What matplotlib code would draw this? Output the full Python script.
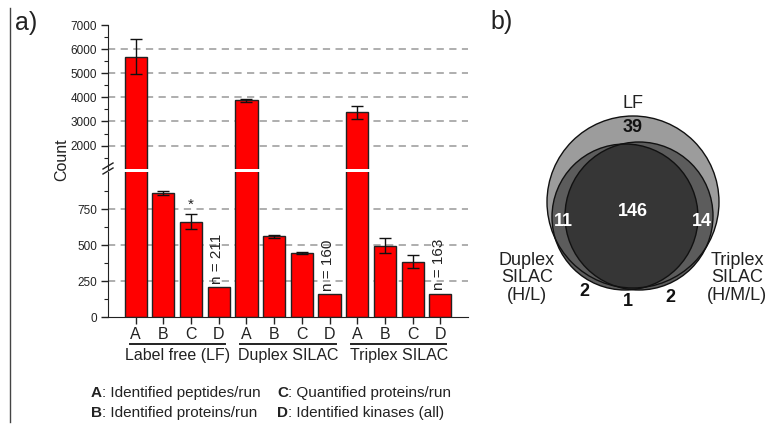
import numpy as np
import matplotlib.pyplot as plt
from matplotlib.patches import Circle
from matplotlib.transforms import blended_transform_factory

plt.rcParams['font.family'] = ['Liberation Sans', 'DejaVu Sans']
plt.rcParams['text.color'] = '#222222'
plt.rcParams['axes.edgecolor'] = '#222222'
plt.rcParams['xtick.color'] = '#222222'
plt.rcParams['ytick.color'] = '#222222'

# ---- data ----
groups = ['Label free (LF)', 'Duplex SILAC', 'Triplex SILAC']
letters = ['A', 'B', 'C', 'D']
lf_vals = [5680, 865, 662, 211]
lf_err = [720, 14, 52, 0]
duplex_vals = [3870, 560, 445, 160]
duplex_err = [55, 8, 8, 0]
triplex_vals = [3385, 497, 385, 163]
triplex_err = [270, 52, 45, 0]

upper_ticks = [2000, 3000, 4000, 5000, 6000, 7000]
upper_grid = [2000, 3000, 4000, 5000, 6000]
lower_ticks = [0, 250, 500, 750]
lower_grid = [250, 500, 750]

legend_rows = [[('A', 'Identified peptides/run'), ('C', 'Quantified proteins/run')],
               [('B', 'Identified proteins/run'), ('D', 'Identified kinases (all)')]]

venn_sets = ['LF', 'Duplex\nSILAC\n(H/L)', 'Triplex\nSILAC\n(H/M/L)']
venn_counts = {'lf_only': 39, 'all': 146, 'lf_duplex': 11, 'lf_triplex': 14,
               'duplex_only': 2, 'duplex_triplex': 1, 'triplex_only': 2}

W, H = 771, 429
fig = plt.figure(figsize=(W / 100, H / 100), dpi=100)


def fr(x0, y0, x1, y1):
    # pixel box -> figure fraction rect
    return [x0 / W, 1 - y1 / H, (x1 - x0) / W, (y1 - y0) / H]


values = np.array(lf_vals + duplex_vals + triplex_vals)
errors = np.array(lf_err + duplex_err + triplex_err)
x = np.arange(len(values))

ax_up = fig.add_axes(fr(108, 25, 468, 168.5))
ax_lo = fig.add_axes(fr(108, 171.5, 468, 317))

for ax in (ax_up, ax_lo):
    ax.bar(x, values, width=0.8, color='#ff0000', edgecolor='#222222',
           linewidth=1.0, zorder=2)
    has_err = errors > 0
    ax.errorbar(x[has_err], values[has_err], yerr=errors[has_err], fmt='none',
                ecolor='#111111', elinewidth=1.0, capsize=4, capthick=1.0, zorder=3)
    ax.set_xlim(-1, 12)
    ax.spines['top'].set_visible(False)
    ax.spines['right'].set_visible(False)
    ax.tick_params(axis='y', direction='out', length=5, width=1, labelsize=8.5, pad=3)
    ax.tick_params(axis='y', which='minor', direction='out', length=3, width=0.8)

grid_kw = dict(color='#a8a8a8', linewidth=1.3, linestyle=(0, (4, 3)), zorder=0)

ax_up.set_ylim(1050, 7000)
ax_up.set_yticks(upper_ticks)
ax_up.set_yticks(np.arange(1500, 7000, 1000), minor=True)
ax_up.spines['bottom'].set_visible(False)
ax_up.set_xticks([])
for v in upper_grid:
    ax_up.axhline(v, **grid_kw)

ax_lo.set_ylim(0, 1012)
ax_lo.set_yticks(lower_ticks)
ax_lo.set_yticks([125, 375, 625, 875], minor=True)
for v in lower_grid:
    ax_lo.axhline(v, **grid_kw)
ax_lo.set_xticks(x)
ax_lo.set_xticklabels(letters * 3, fontsize=11.5)
ax_lo.tick_params(axis='x', direction='out', length=5, width=1, pad=2)

# significance star and kinase counts
ax_lo.text(2, lf_vals[2] + lf_err[2] + 15, '*', ha='center', va='bottom', fontsize=11)
for gi in range(3):
    xi = gi * 4 + 3
    ax_lo.text(xi - 0.05, values[xi] + 22, f'n = {values[xi]}', rotation=90,
               ha='center', va='bottom', fontsize=11)

# group underlines and labels
tr = blended_transform_factory(ax_lo.transData, ax_lo.transAxes)
for gi, g in enumerate(groups):
    x0, x1 = gi * 4 - 0.22, gi * 4 + 3 + 0.22
    ax_lo.plot([x0, x1], [-0.185, -0.185], transform=tr, color='#222222',
               linewidth=1.4, clip_on=False)
    ax_lo.text(gi * 4 + 1.5, -0.265, g, transform=tr, ha='center', va='center',
               fontsize=11.5)

# ---- overlay for labels and venn ----
ov = fig.add_axes([0, 0, 1, 1], zorder=10)
ov.set_xlim(0, W)
ov.set_ylim(H, 0)
ov.axis('off')
ov.patch.set_visible(False)

ov.plot([10, 10], [8, 422], color='#444444', linewidth=1.0)
ov.text(15, 23, 'a)', fontsize=18, ha='left', va='center')
ov.text(490, 22, 'b)', fontsize=18, ha='left', va='center')
ov.text(62, 160, 'Count', rotation=90, ha='center', va='center', fontsize=11.5)

# axis break marks
for dy in (0, 5):
    ov.plot([103, 113], [169 + dy, 163 + dy], color='#222222', linewidth=1.0)

# legend text
for ri, row in enumerate(legend_rows):
    for ci, (key, desc) in enumerate(row):
        t = ov.text(91 + ci * 186, 393 + ri * 20, key, fontweight='bold',
                    fontsize=11, ha='left', va='center')
        ov.annotate(': ' + desc, xy=(1, 0.5), xycoords=t, ha='left', va='center',
                    fontsize=11)

# venn diagram
lf_c, lf_r = (633, 202), 86
dup_c, dup_r = (625, 217), 73
tri_c, tri_r = (639, 216), 74
lf = Circle(lf_c, lf_r, facecolor='#9c9c9c', edgecolor='none')
dup = Circle(dup_c, dup_r, facecolor='#5c5c5c', edgecolor='none')
tri = Circle(tri_c, tri_r, facecolor='#5c5c5c', edgecolor='none')
for p in (lf, dup, tri):
    ov.add_patch(p)
core = Circle(tri_c, tri_r, facecolor='#363636', edgecolor='none')
ov.add_patch(core)
core.set_clip_path(dup)
for c, r in ((lf_c, lf_r), (dup_c, dup_r), (tri_c, tri_r)):
    ov.add_patch(Circle(c, r, facecolor='none', edgecolor='#111111', linewidth=1.0))

ov.text(633, 103, venn_sets[0], fontsize=13, ha='center', va='center')
ov.text(527, 278, venn_sets[1], fontsize=13, ha='center', va='center', linespacing=1.05)
ov.text(737, 278, venn_sets[2], fontsize=13, ha='center', va='center', linespacing=1.05)

num_kw = dict(fontsize=13, fontweight='bold', ha='center', va='center')
ov.text(633, 128, str(venn_counts['lf_only']), color='#111111', **num_kw)
ov.text(633, 212, str(venn_counts['all']), color='white', **num_kw)
ov.text(563, 222, str(venn_counts['lf_duplex']), color='white', **num_kw)
ov.text(702, 222, str(venn_counts['lf_triplex']), color='white', **num_kw)
ov.text(584, 292, str(venn_counts['duplex_only']), color='#111111', **num_kw)
ov.text(628, 302, str(venn_counts['duplex_triplex']), color='#111111', **num_kw)
ov.text(670, 297, str(venn_counts['triplex_only']), color='#111111', **num_kw)

fig.savefig('out.png', dpi=100)
